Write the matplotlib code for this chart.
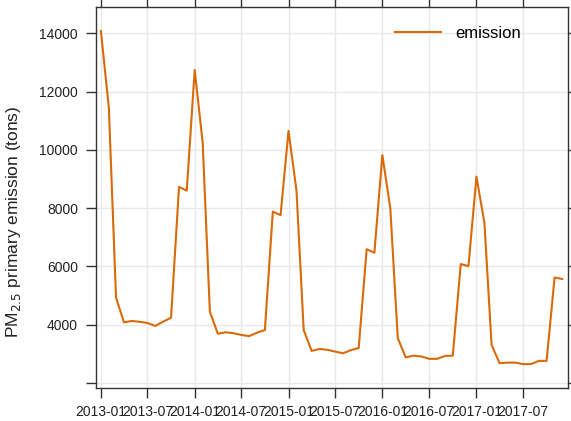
import numpy as np
import pandas as pd
import matplotlib
matplotlib.use('Agg')
import matplotlib.pyplot as plt

plt.rcParams['font.family'] = ['Liberation Sans', 'DejaVu Sans']

# dados mensais 2013-01 .. 2017-12 (toneladas)
meses = pd.date_range('2013-01-01', periods=60, freq='MS')
emissao = [14080, 11450, 4930, 4080, 4130, 4100, 4060, 3960, 4110, 4240, 8730, 8600,
           12740, 10250, 4450, 3690, 3740, 3710, 3650, 3610, 3730, 3820, 7880, 7760,
           10650, 8600, 3820, 3100, 3170, 3140, 3080, 3020, 3130, 3200, 6590, 6470,
           9820, 7990, 3540, 2880, 2940, 2910, 2830, 2830, 2930, 2940, 6080, 6010,
           9080, 7500, 3310, 2680, 2700, 2700, 2650, 2650, 2760, 2760, 5620, 5570]

x_ticks = ['2013-01', '2013-07', '2014-01', '2014-07', '2015-01',
           '2015-07', '2016-01', '2016-07', '2017-01', '2017-07']
y_ticks = [2000, 4000, 6000, 8000, 10000, 12000, 14000]
y_labels = ['', '4000', '6000', '8000', '10000', '12000', '14000']

fig = plt.figure(figsize=(5.71, 4.21), dpi=100)
ax = fig.add_axes([0.1681, 0.0777, 0.8261, 0.905])

ax.plot(meses, emissao, color='#d96a0a', lw=1.5, label='emission', zorder=3)

ax.set_xticks(pd.to_datetime(x_ticks))
ax.set_xticklabels(x_ticks)
ax.set_yticks(y_ticks)
ax.set_yticklabels(y_labels)
ax.set_xlim(pd.Timestamp('2012-12-13'), pd.Timestamp('2017-12-22'))
ax.set_ylim(1820, 14890)

ax.grid(True, color='#e8e8e8', lw=1, zorder=0)
ax.tick_params(which='both', direction='out', length=7, width=1, color='#333333',
               labelsize=10, labelcolor='#222222', top=True, right=True)
ax.tick_params(axis='y', pad=6)
ax.tick_params(axis='x', pad=5)
for s in ax.spines.values():
    s.set_color('#333333')
    s.set_linewidth(1)

ax.set_ylabel('PM$_{2.5}$ primary emission (tons)', fontsize=12.5, color='#222222')
ax.yaxis.set_label_coords(-0.155, 0.4365)

ax.legend(loc='center left', bbox_to_anchor=(0.633, 0.9325), frameon=False,
          fontsize=12, handlelength=2.8, handletextpad=0.85, borderpad=0, borderaxespad=0)

fig.savefig('out.png', dpi=100)
